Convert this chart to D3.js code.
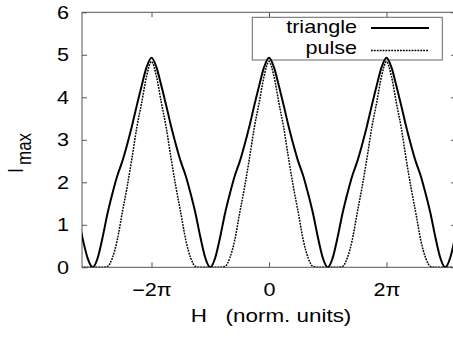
<!DOCTYPE html>
<html>
<head>
<meta charset="utf-8">
<script src="https://cdn.jsdelivr.net/npm/d3@7"></script>
<style>
  html, body { margin: 0; padding: 0; background: #fff; }
  svg { display: block; }
  text { font-family: "Liberation Sans", Arial, Helvetica, sans-serif; fill: #000; }
</style>
</head>
<body>
<svg id="chart" width="453" height="341"></svg>
<script>
// ---- data ----
// H positions: multiples of pi/12 from -39*pi/12 to 39*pi/12
const stepIndex = d3.range(-39, 40);
const hValues = stepIndex.map(k => k * Math.PI / 12);

const triangleValues = [
  1.20, 0.64, 0.20, 0.00, 0.22, 0.70, 1.26, 1.73, 2.15, 2.48, 2.88, 3.32, 3.81, 4.28, 4.71, 4.93,
  4.71, 4.28, 3.81, 3.32, 2.88, 2.48, 2.15, 1.73, 1.26, 0.70, 0.22, 0.00,
  0.22, 0.70, 1.26, 1.73, 2.15, 2.48, 2.88, 3.32, 3.81, 4.28, 4.71, 4.93,
  4.71, 4.28, 3.81, 3.32, 2.88, 2.48, 2.15, 1.73, 1.26, 0.70, 0.22, 0.00,
  0.22, 0.70, 1.26, 1.73, 2.15, 2.48, 2.88, 3.32, 3.81, 4.28, 4.71, 4.93,
  4.71, 4.28, 3.81, 3.32, 2.88, 2.48, 2.15, 1.73, 1.26, 0.70, 0.22, 0.00,
  0.22, 0.70, 1.26
];
const pulseValues = [
  0.02, 0.00, 0.00, 0.00, 0.00, 0.00, 0.02, 0.22, 0.64, 1.27, 1.88, 2.56, 3.29, 3.88, 4.50, 4.84,
  4.50, 3.88, 3.29, 2.56, 1.88, 1.27, 0.64, 0.22, 0.02, 0.00, 0.00, 0.00,
  0.00, 0.00, 0.02, 0.22, 0.64, 1.27, 1.88, 2.56, 3.29, 3.88, 4.50, 4.84,
  4.50, 3.88, 3.29, 2.56, 1.88, 1.27, 0.64, 0.22, 0.02, 0.00, 0.00, 0.00,
  0.00, 0.00, 0.02, 0.22, 0.64, 1.27, 1.88, 2.56, 3.29, 3.88, 4.50, 4.84,
  4.50, 3.88, 3.29, 2.56, 1.88, 1.27, 0.64, 0.22, 0.02, 0.00, 0.00, 0.00,
  0.00, 0.00, 0.02
];
const seriesNames = ["triangle", "pulse"];
const xTickValues = [-2 * Math.PI, 0, 2 * Math.PI];
const xTickLabels = ["\u22122\u03c0", "0", "2\u03c0"];
const yTickValues = [0, 1, 2, 3, 4, 5, 6];
const xLabel = "H   (norm. units)";

// ---- layout ----
const svg = d3.select("#chart");
const plotLeft = 82, plotRight = 456, plotTop = 12.3, plotBottom = 267.3;
const x = d3.scaleLinear().domain([-10, 10]).range([plotLeft, plotRight]);
const y = d3.scaleLinear().domain([0, 6]).range([plotBottom, plotTop]);
const frameColor = "#555";
const SX = 1.2; // horizontal stretch of the lettering in the reference

function stretch(sel, sx, sy) {
  sel.each(function () {
    const t = d3.select(this);
    const tx = +t.attr("x") || 0, ty = +t.attr("y") || 0;
    t.attr("x", 0).attr("y", 0)
     .attr("transform", `translate(${tx},${ty}) scale(${sx},${sy})`);
  });
}

svg.append("defs").append("clipPath").attr("id", "clip")
  .append("rect").attr("x", plotLeft).attr("y", plotTop)
  .attr("width", plotRight - plotLeft).attr("height", plotBottom - plotTop);

// axes (ticks inward)
const gx = svg.append("g").attr("transform", `translate(0,${plotBottom})`)
  .call(d3.axisBottom(x).tickValues(xTickValues)
    .tickFormat((d, i) => xTickLabels[i]).tickSizeInner(-5).tickSizeOuter(0).tickPadding(16));
const gxTop = svg.append("g").attr("transform", `translate(0,${plotTop})`)
  .call(d3.axisTop(x).tickValues(xTickValues).tickFormat("").tickSizeInner(-5).tickSizeOuter(0));
const gy = svg.append("g").attr("transform", `translate(${plotLeft},0)`)
  .call(d3.axisLeft(y).tickValues(yTickValues).tickFormat(d3.format("d"))
    .tickSizeInner(-5).tickSizeOuter(0).tickPadding(13));
const gyR = svg.append("g").attr("transform", `translate(${plotRight},0)`)
  .call(d3.axisRight(y).tickValues(yTickValues).tickFormat("").tickSizeInner(-5).tickSizeOuter(0));

[gx, gxTop, gy, gyR].forEach(g => {
  g.select(".domain").remove();
  g.selectAll(".tick line").attr("stroke", frameColor);
  g.selectAll(".tick text").attr("font-size", 18).attr("font-family", "Liberation Sans, Arial, sans-serif").attr("fill", "#000");
});
stretch(gx.selectAll(".tick text"), SX, 1);
stretch(gy.selectAll(".tick text"), SX, 1);

svg.append("rect").attr("x", plotLeft).attr("y", plotTop)
  .attr("width", plotRight - plotLeft).attr("height", plotBottom - plotTop)
  .attr("fill", "none").attr("stroke", frameColor).attr("stroke-width", 1);

// legend box
svg.append("rect").attr("x", 252.3).attr("y", 17.3).attr("width", 190).attr("height", 42.7)
  .attr("fill", "none").attr("stroke", "#666").attr("stroke-width", 1);

const styles = [
  { width: 2, dash: null },
  { width: 1.5, dash: "1.8,1.1" }
];
const legendY = [28, 50.5];
const legendBase = [32.5, 54];
seriesNames.forEach((name, i) => {
  const t = svg.append("text").attr("x", 357).attr("y", legendBase[i]).attr("text-anchor", "end")
    .attr("font-size", 18).text(name);
  stretch(t, SX, 1);
  svg.append("line").attr("x1", 371).attr("x2", 429).attr("y1", legendY[i]).attr("y2", legendY[i])
    .attr("stroke", "#000").attr("stroke-width", styles[i].width)
    .attr("stroke-dasharray", styles[i].dash);
});

// curves
const line = d3.line().x(d => x(d[0])).y(d => y(d[1])).curve(d3.curveMonotoneX);
[triangleValues, pulseValues].forEach((vals, i) => {
  svg.append("path")
    .datum(hValues.map((h, j) => [h, vals[j]]))
    .attr("clip-path", "url(#clip)")
    .attr("fill", "none").attr("stroke", "#000")
    .attr("stroke-width", styles[i].width)
    .attr("stroke-dasharray", styles[i].dash)
    .attr("stroke-linejoin", "round")
    .attr("d", line);
});

// axis titles
const xt = svg.append("text").attr("x", 271).attr("y", 322).attr("text-anchor", "middle")
  .attr("font-size", 19).style("white-space", "pre").attr("xml:space", "preserve").text(xLabel);
stretch(xt, 1.18, 1);

const yl = svg.append("text").attr("transform", "translate(23,173) rotate(-90) scale(1,1.2)")
  .attr("text-anchor", "start").attr("font-size", 18);
yl.append("tspan").text("I");
yl.append("tspan").attr("font-size", 17).attr("dx", 3).attr("dy", 7).text("max");
</script>
</body>
</html>
